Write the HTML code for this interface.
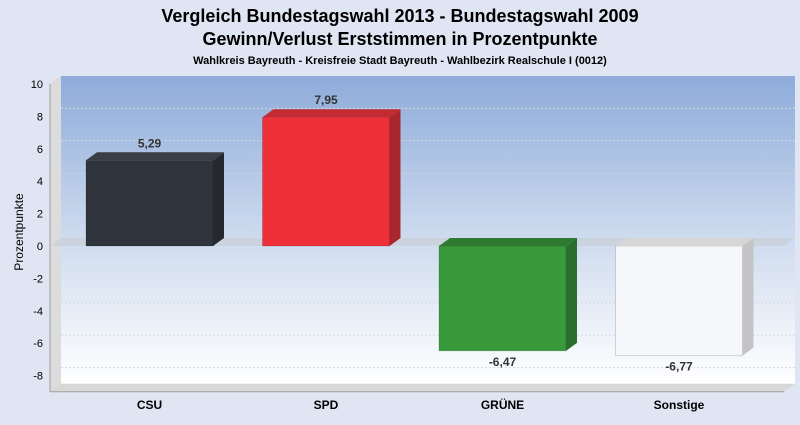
<!DOCTYPE html>
<html><head><meta charset="utf-8"><style>
body{margin:0;background:#dfe5f2;font-family:"Liberation Sans",sans-serif}
</style></head><body>
<svg width="800" height="420" xmlns="http://www.w3.org/2000/svg" id="c">
<defs>
<linearGradient id="bg" x1="0" y1="0" x2="0" y2="1"><stop offset="0" stop-color="#8eabda"/><stop offset="0.5" stop-color="#cbd9ee"/><stop offset="1" stop-color="#ffffff"/></linearGradient>
</defs>
<rect width="800" height="420" fill="#dfe5f2"/>
<text x="400" y="22" text-anchor="middle" font-size="18" font-weight="bold">Vergleich Bundestagswahl 2013 - Bundestagswahl 2009</text>
<text x="400" y="45" text-anchor="middle" font-size="18" font-weight="bold">Gewinn/Verlust Erststimmen in Prozentpunkte</text>
<text x="400" y="64" text-anchor="middle" font-size="11" font-weight="bold">Wahlkreis Bayreuth - Kreisfreie Stadt Bayreuth - Wahlbezirk Realschule I (0012)</text>
<text transform="translate(23,232) rotate(-90)" text-anchor="middle" font-size="12">Prozentpunkte</text>
<g id="plot"></g>
</svg>
<script>
const categories=["CSU","SPD","GRÜNE","Sonstige"];
const values=[5.29,7.95,-6.47,-6.77];
const valueLabels=["5,29","7,95","-6,47","-6,77"];
const ticks=[10,8,6,4,2,0,-2,-4,-6,-8];
const colors=[["#2f333b","#25282e","#3a3e46"],["#ee3139","#a8262d","#c42a31"],["#389a3b","#2b6e2e","#2f7a31"],["#f6f7fb","#c4c4c4","#d6d6d6"]];
const NS="http://www.w3.org/2000/svg";
const g=document.getElementById("plot");
const y=v=>246-v*16.2, DX=11, DY=-8, x0=61, x1=795;
function el(t,a,p){const e=document.createElementNS(NS,t);for(const k in a)e.setAttribute(k,a[k]);(p||g).appendChild(e);return e;}
let e;
e=el("rect",{x:x0,y:y(10)+DY,width:x1-x0,height:y(-9)-y(10),fill:"url(#bg)"});


e=el("polygon",{points:`50,${y(10)} ${x0},${y(10)+DY} ${x0},${y(-9)+DY} 50,${y(-9)}`,fill:"#dcdcdc"});


e=el("polygon",{points:`50,${y(-9)} ${x0},${y(-9)+DY} ${x1},${y(-9)+DY} ${x1-DX},${y(-9)}`,fill:"#d8d8d8"});


ticks.forEach(t=>{
 if(t!==0&&t!==10){e=el("line",{x1:x0,x2:x1,y1:y(t)+DY,y2:y(t)+DY,stroke:"#d4d8de","stroke-dasharray":"2,2"});
 
 }
 e=el("text",{x:43,y:y(t)+4,"text-anchor":"end","font-size":"11"});e.textContent=t;
 
 
});
e=el("polygon",{points:`50,${y(0)} ${x0},${y(0)+DY} ${x1},${y(0)+DY} ${x1-DX},${y(0)}`,fill:"#c9ced6",opacity:"0.7"});


e=el("line",{x1:50,x2:50,y1:y(10),y2:y(-9),stroke:"#a0a0a0"});


e=el("line",{x1:50,x2:x1-DX,y1:y(-9),y2:y(-9),stroke:"#a0a0a0"});


const step=176.5,bw=127,bx0=86;
categories.forEach((c,i)=>{
 const v=values[i],bx=bx0+i*step,top=Math.min(y(v),y(0)),bot=Math.max(y(v),y(0)),col=colors[i];
 e=el("rect",{x:bx,y:top,width:bw,height:bot-top,fill:col[0],stroke:"rgba(0,0,0,0.15)"});
 
 
 e=el("polygon",{points:`${bx+bw},${top} ${bx+bw+DX},${top+DY} ${bx+bw+DX},${bot+DY} ${bx+bw},${bot}`,fill:col[1]});
 
 
 e=el("polygon",{points:`${bx},${top} ${bx+DX},${top+DY} ${bx+bw+DX},${top+DY} ${bx+bw},${top}`,fill:col[2]});
 
 
 const ly=v>=0?y(v)+DY-5:y(v)+15;
 e=el("text",{x:bx+bw/2,y:ly,"text-anchor":"middle","font-size":"12","font-weight":"bold",fill:"#333"});e.textContent=valueLabels[i];
 
 
 e=el("text",{x:bx+bw/2,y:409,"text-anchor":"middle","font-size":"12","font-weight":"bold"});e.textContent=c;
 
 
});
</script>
</body></html>
